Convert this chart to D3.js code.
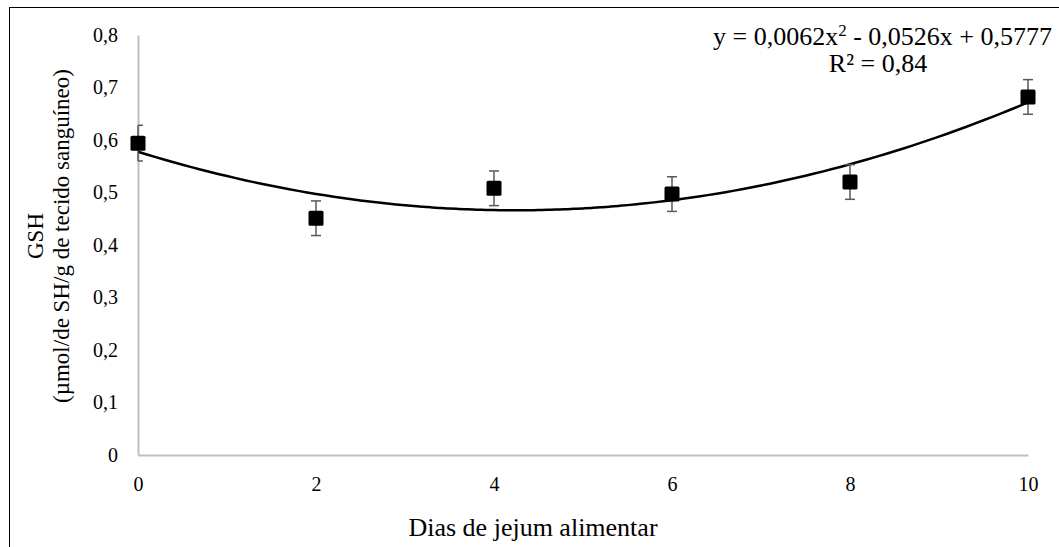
<!DOCTYPE html>
<html>
<head>
<meta charset="utf-8">
<script src="https://cdn.jsdelivr.net/npm/d3@7"></script>
<style>
  body { margin: 0; background: #fff; }
</style>
</head>
<body>
<div id="chart"></div>
<script>
// data
let days = [0, 2, 4, 6, 8, 10];
let gsh = [0.594, 0.451, 0.508, 0.497, 0.52, 0.682];
let gshErr = [0.034, 0.033, 0.033, 0.033, 0.033, 0.033];
let trendCoef = [0.5777, -0.0526, 0.0062]; // c0 + c1 x + c2 x^2
let xTicks = [0, 2, 4, 6, 8, 10];
let yTicks = [0, 0.1, 0.2, 0.3, 0.4, 0.5, 0.6, 0.7, 0.8];

let width = 1059, height = 547;
let axisColor = '#bfbfbf', errColor = '#595959';
let serif = 'Liberation Serif';

let svg = d3.select('#chart').append('svg')
    .attr('width', width)
    .attr('height', height);

// outer frame
svg.append('rect')
    .attr('x', 9.5).attr('y', 7.5)
    .attr('width', 1060).attr('height', 560)
    .attr('fill', 'none')
    .attr('stroke', '#000')
    .attr('stroke-width', 1);

let x = d3.scaleLinear().domain([0, 10]).range([138, 1028]);
let y = d3.scaleLinear().domain([0, 0.8]).range([455, 35]);

let fmt = d => d3.format('.1f')(d).replace('.', ',');

// y axis
let yAxis = svg.append('g')
    .attr('transform', 'translate(' + x(0) + ',0)')
    .call(d3.axisLeft(y).tickValues(yTicks).tickSize(0).tickPadding(20)
        .tickFormat(d => d === 0 ? '0' : fmt(d)));
yAxis.attr('font-family', serif).attr('font-size', 20);
yAxis.select('.domain').attr('stroke', axisColor).attr('stroke-width', 2);
yAxis.selectAll('text').style('font-family', serif).style('font-size', '20px').attr('fill', '#000');

// x axis
let xAxis = svg.append('g')
    .attr('transform', 'translate(0,' + y(0) + ')')
    .call(d3.axisBottom(x).tickValues(xTicks).tickSize(0).tickPadding(22)
        .tickFormat(d3.format('d')));
xAxis.attr('font-family', serif).attr('font-size', 20);
xAxis.select('.domain').attr('stroke', axisColor).attr('stroke-width', 2);
xAxis.selectAll('text').style('font-family', serif).style('font-size', '20px').attr('fill', '#000');

// axis titles
svg.append('text')
    .attr('x', 533).attr('y', 536)
    .attr('text-anchor', 'middle')
    .style('font-family', serif).style('font-size', '26px')
    .text('Dias de jejum alimentar');

let yt = svg.append('text')
    .attr('transform', 'translate(0,236) rotate(-90)')
    .attr('text-anchor', 'middle')
    .style('font-family', serif).style('font-size', '23px');
yt.append('tspan').attr('x', 0).attr('y', 43).text('GSH');
yt.append('tspan').attr('x', 0).attr('y', 69).text('(µmol/de SH/g de tecido sanguíneo)');

// trend line
let trendX = d3.range(0, 10.01, 0.1);
let line = d3.line()
    .x(d => x(d))
    .y(d => y(trendCoef[0] + trendCoef[1] * d + trendCoef[2] * d * d))
    .curve(d3.curveMonotoneX);
svg.append('path')
    .datum(trendX)
    .attr('d', line)
    .attr('fill', 'none')
    .attr('stroke', '#000')
    .attr('stroke-width', 2.5);

// error bars
let pts = days.map((d, i) => ({ x: d, y: gsh[i], e: gshErr[i] }));
let eb = svg.append('g').attr('stroke', errColor).attr('stroke-width', 1.5);
pts.forEach(p => {
    eb.append('line')
        .attr('x1', x(p.x)).attr('x2', x(p.x))
        .attr('y1', y(p.y + p.e)).attr('y2', y(p.y - p.e));
    [p.y + p.e, p.y - p.e].forEach(v => {
        eb.append('line')
            .attr('x1', x(p.x) - (p.x === 0 ? 0 : 5)).attr('x2', x(p.x) + 5)
            .attr('y1', y(v)).attr('y2', y(v));
    });
});

// markers
svg.append('g').selectAll('rect')
    .data(pts)
    .enter()
    .append('rect')
    .attr('x', d => x(d.x) - 7.5)
    .attr('y', d => y(d.y) - 7.5)
    .attr('width', 15)
    .attr('height', 15)
    .attr('rx', 1.5)
    .attr('fill', '#000');

// equation
let eq = svg.append('text')
    .attr('x', 1052).attr('y', 45)
    .attr('text-anchor', 'end')
    .style('font-family', serif).style('font-size', '26px');
eq.append('tspan').text('y = 0,0062x');
eq.append('tspan').attr('dy', -9).style('font-size', '17px').text('2');
eq.append('tspan').attr('dy', 9).text(' - 0,0526x + 0,5777');
svg.append('text')
    .attr('x', 878).attr('y', 72)
    .attr('text-anchor', 'middle')
    .style('font-family', serif).style('font-size', '26px')
    .text('R² = 0,84');
</script>
</body>
</html>
